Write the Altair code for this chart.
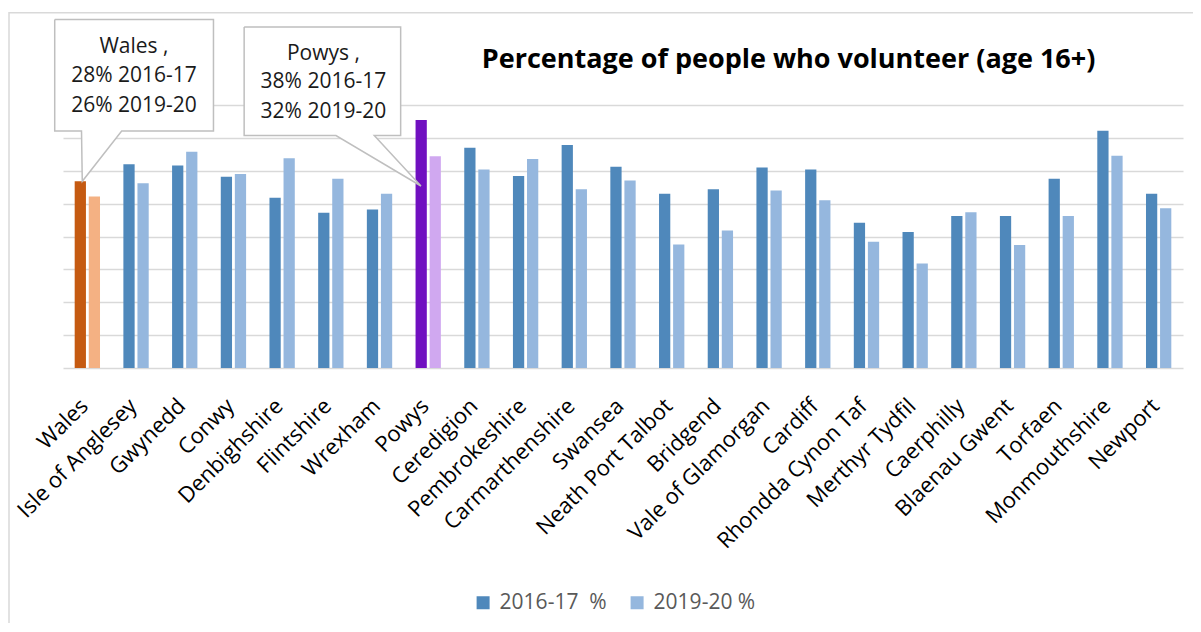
import altair as alt
import pandas as pd

# ---------------- data ----------------
regions = ["Wales", "Isle of Anglesey", "Gwynedd", "Conwy", "Denbighshire", "Flintshire",
           "Wrexham", "Powys", "Ceredigion", "Pembrokeshire", "Carmarthenshire", "Swansea",
           "Neath Port Talbot", "Bridgend", "Vale of Glamorgan", "Cardiff", "Rhondda Cynon Taf",
           "Merthyr Tydfil", "Caerphilly", "Blaenau Gwent", "Torfaen", "Monmouthshire", "Newport"]
pct_2016 = [28.4, 31.0, 30.8, 29.1, 25.9, 23.6, 24.1, 37.7, 33.5, 29.2, 33.9, 30.6,
            26.5, 27.2, 30.5, 30.2, 22.1, 20.7, 23.1, 23.1, 28.8, 36.1, 26.5]
pct_2019 = [26.1, 28.1, 32.9, 29.5, 31.9, 28.8, 26.5, 32.2, 30.2, 31.8, 27.2, 28.5,
            18.8, 20.9, 27.0, 25.5, 19.2, 15.9, 23.7, 18.7, 23.1, 32.3, 24.3]
periods = ["2016-17", "2019-20"]
legend_labels = ["2016-17\u00a0 %", "2019-20 %"]
base_colors = ["#4F88BB", "#95B7DE"]
highlight_regions = ["Wales", "Powys"]
highlight_colors = [["#C55A11", "#F4B183"], ["#7010C0", "#D0A8F0"]]

title_text = "Percentage of people who volunteer (age 16+)"
title_pos = [14.9, 45.7]   # category units, percentage units (baseline)

# callouts (positions in category units / percentage units)
callout_ids = ["Wales", "Powys"]
callout_lines = [["Wales ,", "28% 2016-17", "26% 2019-20"],
                 ["Powys ,", "38% 2016-17", " 32% 2019-20"]]
box_left = [-0.17, 3.72]
box_right = [3.09, 6.934]
box_top = [52.99, 51.86]
box_bottom = [36.05, 35.35]
base_a = [0.38, 5.606]
base_b = [1.205, 6.392]
tip_x = [0.396, 7.351]
tip_y = [28.4, 27.68]
text_x = [1.458, 5.347]
text_y = [[48.82, 44.37, 39.81], [47.8, 43.5, 38.9]]

frame_x = [-1.109, 40.0]
frame_y = [54.04, -60.0]

# ---------------- tables ----------------
bar_rows = []
for i, r in enumerate(regions):
    for j, p in enumerate(periods):
        val = [pct_2016, pct_2019][j][i]
        key = f"{r} {p}" if r in highlight_regions else legend_labels[j]
        bar_rows.append({"region": r, "period": p, "value": val, "key": key})
bars_df = pd.DataFrame(bar_rows)

color_domain = list(legend_labels)
color_range = list(base_colors)
for r, cols in zip(highlight_regions, highlight_colors):
    for p, c in zip(periods, cols):
        color_domain.append(f"{r} {p}")
        color_range.append(c)

box_df = pd.DataFrame({"id": callout_ids, "x": box_left, "x2": box_right,
                       "y": box_top, "y2": box_bottom})

outline_rows = []
tri_rows = []
text_rows = []
for k, cid in enumerate(callout_ids):
    L, R, T, B = box_left[k], box_right[k], box_top[k], box_bottom[k]
    pts = [(L, T), (R, T), (R, B), (base_b[k], B), (tip_x[k], tip_y[k]),
           (base_a[k], B), (L, B), (L, T)]
    for o, (px, py) in enumerate(pts):
        outline_rows.append({"id": cid, "o": o, "x": px, "y": py})
    tri_rows.append({"id": cid, "y": tip_y[k], "x": tip_x[k], "x2": tip_x[k]})
    tri_rows.append({"id": cid, "y": B, "x": base_a[k], "x2": base_b[k]})
    for line, ty in zip(callout_lines[k], text_y[k]):
        text_rows.append({"id": cid, "x": text_x[k], "y": ty, "t": line})
outline_df = pd.DataFrame(outline_rows)
tri_df = pd.DataFrame(tri_rows)
text_df = pd.DataFrame(text_rows)
frame_df = pd.DataFrame({"x": [frame_x[0]], "x2": [frame_x[1]], "y": [frame_y[0]], "y2": [frame_y[1]]})
title_df = pd.DataFrame({"x": [title_pos[0]], "y": [title_pos[1]], "t": [title_text]})

# ---------------- chart ----------------
FONT = "Open Sans"
y_scale = alt.Scale(domain=[0, 40], nice=False, zero=False)
y_axis = alt.Axis(values=list(range(0, 45, 5)), labels=False, ticks=False, domain=False,
                  grid=True, gridColor="#D9D9D9", gridWidth=1.4, title=None)
ux_scale = alt.Scale(domain=[0, len(regions)], nice=False, zero=False)

bars = alt.Chart(bars_df).mark_bar().encode(
    x=alt.X("region:N", sort=regions,
            scale=alt.Scale(paddingInner=0.48, paddingOuter=0.24),
            axis=alt.Axis(title=None, labelAngle=-45, labelAlign="right", labelBaseline="top",
                          labelPadding=27, labelOffset=-10, labelFont=FONT, labelFontSize=22,
                          labelColor="#000000", labelLimit=400, labelOverlap=False,
                          domain=False, ticks=False, grid=False)),
    xOffset=alt.XOffset("period:N", scale=alt.Scale(paddingInner=0.2)),
    y=alt.Y("value:Q", scale=y_scale, axis=y_axis),
    color=alt.Color("key:N", scale=alt.Scale(domain=color_domain, range=color_range),
                    legend=alt.Legend(values=legend_labels, orient="none", legendX=409.6, legendY=487,
                                      direction="horizontal", title=None, symbolType="square",
                                      symbolSize=169, symbolStrokeWidth=0, labelFont=FONT,
                                      labelFontSize=21, labelColor="#595959", labelOffset=6,
                                      columnPadding=19, padding=0)),
)

frame = alt.Chart(frame_df).mark_rect(fillOpacity=0, stroke="#D9D9D9", strokeWidth=1.5).encode(
    x=alt.X("x:Q", scale=ux_scale, axis=None), x2="x2:Q",
    y=alt.Y("y:Q", scale=y_scale, axis=y_axis), y2="y2:Q")

box_fill = alt.Chart(box_df).mark_rect(fill="white", strokeWidth=0).encode(
    x=alt.X("x:Q", scale=ux_scale, axis=None), x2="x2:Q",
    y=alt.Y("y:Q", scale=y_scale, axis=y_axis), y2="y2:Q")

tri = alt.Chart(tri_df).mark_area(orient="horizontal", fill="white", opacity=1).encode(
    y=alt.Y("y:Q", scale=y_scale, axis=y_axis),
    x=alt.X("x:Q", scale=ux_scale, axis=None), x2="x2:Q",
    detail="id:N")

outline = alt.Chart(outline_df).mark_line(stroke="#BFBFBF", strokeWidth=1.5).encode(
    x=alt.X("x:Q", scale=ux_scale, axis=None),
    y=alt.Y("y:Q", scale=y_scale, axis=y_axis),
    order="o:Q", detail="id:N")

texts = alt.Chart(text_df).mark_text(font=FONT, fontSize=21, color="#1A1A1A",
                                     align="center", baseline="middle").encode(
    x=alt.X("x:Q", scale=ux_scale, axis=None),
    y=alt.Y("y:Q", scale=y_scale, axis=y_axis),
    text="t:N")

title = alt.Chart(title_df).mark_text(font=FONT, fontSize=27, fontWeight="bold", color="#000000",
                                      align="center", baseline="alphabetic").encode(
    x=alt.X("x:Q", scale=ux_scale, axis=None),
    y=alt.Y("y:Q", scale=y_scale, axis=y_axis),
    text="t:N")

annotations = alt.layer(frame, box_fill, tri, outline, texts, title)

chart = alt.layer(bars, annotations).resolve_scale(x="independent", color="independent").properties(
    width=1120, height=263,
    autosize=alt.AutoSizeParams(type="none"),
    padding={"left": 55, "top": 97, "right": 10, "bottom": 255},
    background="white",
).configure_view(stroke=None)

chart.save("out.html", embed_options={"renderer": "svg", "actions": False})
